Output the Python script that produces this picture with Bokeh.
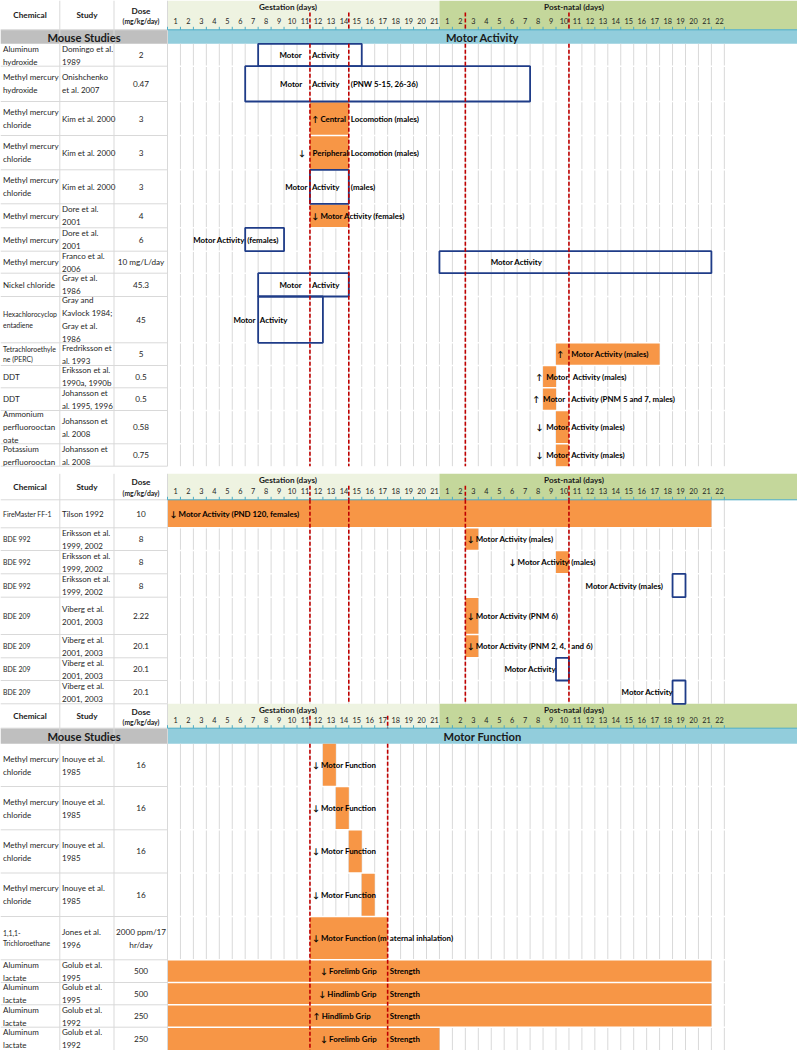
from collections import defaultdict
from bokeh.plotting import figure
from bokeh.models import Range1d
from bokeh.embed import file_html
from bokeh.resources import INLINE
from bokeh.core.properties import value

# ======================= DATA =======================
gest_labels = ["1", "2", "3", "4", "5", "6", "7", "8", "9", "10", "11", "12", "13", "14",
               "15", "16", "17", "18", "19", "20", "21"]
pn_labels = ["1", "2", "3", "4", "5", "6", "7", "8", "9", "10", "11", "12", "13", "14",
             "15", "16", "17", "18", "19", "20", "21", "22"]

# --- Section 1: Mouse studies, Motor Activity ---
band1 = "Motor Activity"
chem1 = ["Aluminum\nhydroxide", "Methyl mercury\nhydroxide", "Methyl mercury\nchloride",
         "Methyl mercury\nchloride", "Methyl mercury\nchloride", "Methyl mercury",
         "Methyl mercury", "Methyl mercury", "Nickel chloride", "Hexachlorocyclop\nentadiene",
         "Tetrachloroethyle\nne (PERC)", "DDT", "DDT", "Ammonium\nperfluorooctan\noate",
         "Potassium\nperfluorooctan"]
study1 = ["Domingo et al.\n1989", "Onishchenko\net al. 2007", "Kim et al. 2000", "Kim et al. 2000",
          "Kim et al. 2000", "Dore et al.\n2001", "Dore et al.\n2001", "Franco et al.\n2006",
          "Gray et al.\n1986", "Gray and\nKavlock 1984;\nGray et al.\n1986", "Fredriksson et\nal. 1993",
          "Eriksson et al.\n1990a, 1990b", "Johansson et\nal. 1995, 1996", "Johansson et\nal. 2008",
          "Johansson et\nal. 2008"]
dose1 = ["2", "0.47", "3", "3", "3", "4", "6", "10 mg/L/day", "45.3", "45", "5", "0.5", "0.5",
         "0.58", "0.75"]
# G = gestation day, P = post-natal day
first1 = ["G8", "G7", "G12", "G12", "G12", "G12", "G7", "P1", "G8", "G8", "P10", "P9", "P9", "P10", "P10"]
last1 = ["G15", "P7", "G14", "G14", "G14", "G14", "G9", "P21", "G14", "G12", "P17", "P9", "P9", "P10", "P10"]
mark1 = ["box", "box", "fill", "fill", "box", "fill", "box", "box", "box", "box", "fill", "fill",
         "fill", "fill", "fill"]
eff1 = [["Motor", "Activity"],
        ["Motor", "Activity", "(PNW 5-15, 26-36)"],
        ["↑ Central", "Locomotion (males)"],
        ["↓", "Peripheral", "Locomotion (males)"],
        ["Motor", "Activity", "(males)"],
        ["↓ Motor Activity (females)"],
        ["Motor Activity", "(females)"],
        ["Motor Activity"],
        ["Motor", "Activity"],
        ["Motor", "Activity"],
        ["↑", "Motor Activity (males)"],
        ["↑", "Motor", "Activity (males)"],
        ["↑", "Motor", "Activity  (PNM 5 and 7, males)"],
        ["↓", "Motor", "Activity (males)"],
        ["↓", "Motor", "Activity (males)"]]
small1 = [False, False, False, False, False, False, False, False, False, True, True, False, False,
          False, False]
red1 = [11, 14, 23, 31]

# --- Section 2: Motor Activity (continued) ---
chem2 = ["FireMaster FF-1", "BDE 992", "BDE 992", "BDE 992", "BDE 209", "BDE 209", "BDE 209", "BDE 209"]
study2 = ["Tilson 1992", "Eriksson et al.\n1999, 2002", "Eriksson et al.\n1999, 2002",
          "Eriksson et al.\n1999, 2002", "Viberg et al.\n2001, 2003", "Viberg et al.\n2001, 2003",
          "Viberg et al.\n2001, 2003", "Viberg et al.\n2001, 2003"]
dose2 = ["10", "8", "8", "8", "2.22", "20.1", "20.1", "20.1"]
first2 = ["G1", "P3", "P10", "P19", "P3", "P3", "P10", "P19"]
last2 = ["P21", "P3", "P10", "P19", "P3", "P3", "P10", "P19"]
mark2 = ["fill", "fill", "fill", "box", "fill", "fill", "box", "box"]
eff2 = [["↓ Motor Activity (PND 120, females)"],
        ["↓ Motor Activity (males)"],
        ["↓ Motor Activity", "(males)"],
        ["Motor Activity (males)"],
        ["↓ Motor Activity (PNM 6)"],
        ["↓ Motor Activity (PNM 2, 4,", "and 6)"],
        ["Motor Activity"],
        ["Motor Activity"]]
small2 = [True] * 8
red2 = [11, 14, 23, 31]

# --- Section 3: Mouse studies, Motor Function ---
band3 = "Motor Function"
chem3 = ["Methyl mercury\nchloride", "Methyl mercury\nchloride", "Methyl mercury\nchloride",
         "Methyl mercury\nchloride", "1,1,1-\nTrichloroethane", "Aluminum\nlactate",
         "Aluminum\nlactate", "Aluminum\nlactate", "Aluminum\nlactate"]
study3 = ["Inouye et al.\n1985", "Inouye et al.\n1985", "Inouye et al.\n1985", "Inouye et al.\n1985",
          "Jones et al.\n1996", "Golub et al.\n1995", "Golub et al.\n1995", "Golub et al.\n1992",
          "Golub et al.\n1992"]
dose3 = ["16", "16", "16", "16", "2000 ppm/17\nhr/day", "500", "500", "250", "250"]
first3 = ["G13", "G14", "G15", "G16", "G12", "G1", "G1", "G1", "G1"]
last3 = ["G13", "G14", "G15", "G16", "G17", "P21", "P21", "P21", "G21"]
mark3 = ["fill"] * 9
eff3 = [["↓ Motor Function"], ["↓ Motor Function"], ["↓ Motor Function"], ["↓ Motor Function"],
        ["↓ Motor Function (m", "aternal inhalation)"],
        ["↓ Forelimb Grip", "Strength"], ["↓ Hindlimb Grip", "Strength"],
        ["↑ Hindlimb Grip", "Strength"], ["↓ Forelimb Grip", "Strength"]]
small3 = [False, False, False, False, True, False, False, False, False]
red3 = [11, 17]

# ======================= LAYOUT =======================
COL_W = 12.95          # reference pixels per day column
X0 = 167.0             # reference pixel where gestation day 1 starts
N_GEST = 21


def pxc(px):
    return (px - X0) / COL_W


X_MIN = pxc(0)
X_MAX = pxc(797)

eff_pos1 = [[(9.5, "center"), (11.15, "left")],
            [(9.55, "center"), (11.15, "left"), (14.15, "left")],
            [(11.2, "left"), (14.15, "left")],
            [(10.4, "center"), (11.2, "left"), (14.15, "left")],
            [(10.8, "right"), (11.15, "left"), (14.15, "left")],
            [(11.2, "left")],
            [(5.97, "right"), (6.15, "left")],
            [(26.95, "center")],
            [(9.5, "center"), (11.15, "left")],
            [(6.8, "right"), (7.13, "left")],
            [(30.35, "center"), (31.17, "left")],
            [(28.73, "center"), (29.24, "left"), (31.3, "left")],
            [(28.5, "center"), (29.0, "left"), (31.17, "left")],
            [(28.75, "center"), (29.24, "left"), (31.17, "left")],
            [(28.75, "center"), (29.24, "left"), (31.17, "left")]]
eff_pos2 = [[(0.25, "left")], [(23.2, "left")], [(26.43, "left"), (31.17, "left")],
            [(38.3, "right")], [(23.2, "left")], [(23.2, "left"), (31.17, "left")],
            [(30.0, "right")], [(39.05, "right")]]
eff_pos3 = [[(11.25, "left")]] * 4 + [[(11.25, "left"), (17.17, "left")],
                                       [(11.87, "left"), (17.17, "left")],
                                       [(11.74, "left"), (17.17, "left")],
                                       [(11.3, "left"), (17.17, "left")],
                                       [(11.87, "left"), (17.17, "left")]]

sections = [
    dict(chem=chem1, study=study1, dose=dose1, first=first1, last=last1, mark=mark1, eff=eff1,
         pos=eff_pos1, small=small1, red=red1, band=band1,
         ht=0.0, hb=29.3, bb=43.3,
         edges=[43.3, 65.7, 101, 135, 169.3, 203.3, 227.3, 250.7, 272.7, 296, 342.3, 365, 387.3,
                410, 443.3, 465.7]),
    dict(chem=chem2, study=study2, dose=dose2, first=first2, last=last2, mark=mark2, eff=eff2,
         pos=eff_pos2, small=small2, red=red2, band=None,
         ht=473.3, hb=499.3, bb=499.3,
         edges=[499.3, 527.3, 550, 573.3, 596.7, 634, 657.3, 680, 703.3]),
    dict(chem=chem3, study=study3, dose=dose3, first=first3, last=last3, mark=mark3, eff=eff3,
         pos=eff_pos3, small=small3, red=red3, band=band3,
         ht=703.3, hb=727.7, bb=743.3,
         edges=[743.3, 786, 829.3, 872.5, 916, 959.3, 982, 1004.3, 1026.7, 1050]),
]

ORANGE = "#F79646"
NAVY = "#1F3C88"
RED = "#C00000"
GRID = "#D9D9D9"
TEAL = "#4BACC6"
GEST_FILL = "#EEF3E1"
PN_FILL = "#C4D79B"
BLUE_BAND = "#92CDDC"
GRAY_BAND = "#BFBFBF"
FONT = "Lato, 'DejaVu Sans'"


def day_start(s):
    base = 0 if s[0] == "G" else N_GEST
    return base + int(s[1:]) - 1


def day_end(s):
    base = 0 if s[0] == "G" else N_GEST
    return base + int(s[1:])


p = figure(width=797, height=1050, x_range=Range1d(X_MIN, X_MAX), y_range=Range1d(1050, 0),
           output_backend="svg", toolbar_location=None, min_border=0,
           x_axis_location=None, y_axis_location=None)
p.grid.visible = False
p.outline_line_color = None
p.background_fill_color = "white"
p.border_fill_color = "white"

texts = defaultdict(lambda: dict(x=[], y=[], t=[]))


def add_text(x, y, t, size, bold=False, align="left", color="#262626"):
    d = texts[(size, bold, align, color)]
    d["x"].append(x)
    d["y"].append(y)
    d["t"].append(t)


hdr = dict(l=[], r=[], t=[], b=[], c=[])
fills = dict(l=[], r=[], t=[], b=[])
boxes = dict(l=[], r=[], t=[], b=[])
gridseg = dict(x0=[], y0=[], x1=[], y1=[])
tabseg = dict(x0=[], y0=[], x1=[], y1=[])
whiteseg = dict(x0=[], y0=[], x1=[], y1=[])
redseg = dict(x0=[], y0=[], x1=[], y1=[])
tealseg = dict(x0=[], y0=[], x1=[], y1=[])

x_chem = pxc(2.5)
x_study = pxc(61.5)
x_dose = pxc(140.5)
col_lines = [pxc(59.3), pxc(113.5), 0.0]

for s in sections:
    ht, hb, bb, edges = s["ht"], s["hb"], s["bb"], s["edges"]
    bottom = edges[-1]
    hm = (ht + hb) / 2
    hdr["l"] += [0, N_GEST]
    hdr["r"] += [N_GEST, X_MAX]
    hdr["t"] += [ht, ht]
    hdr["b"] += [hb, hb]
    hdr["c"] += [GEST_FILL, PN_FILL]
    if s["band"] is not None:
        hdr["l"] += [X_MIN, 0]
        hdr["r"] += [0, X_MAX]
        hdr["t"] += [hb, hb]
        hdr["b"] += [bb, bb]
        hdr["c"] += [GRAY_BAND, BLUE_BAND]
        add_text(pxc(83.5), (hb + bb) / 2 + 0.3, "Mouse Studies", 11.2, True, "center", "#1a1a1a")
        add_text(pxc(482), (hb + bb) / 2 + 0.3, s["band"], 11.2, True, "center", "#1a1a1a")
    add_text(pxc(29.5), hm, "Chemical", 8.2, True, "center", "#1a1a1a")
    add_text(pxc(86.5), hm, "Study", 8.2, True, "center", "#1a1a1a")
    add_text(x_dose, hm - 4.5, "Dose", 8.2, True, "center", "#1a1a1a")
    add_text(x_dose, hm + 6.2, "(mg/kg/day)", 6.8, True, "center", "#1a1a1a")
    add_text(pxc(287.5), ht + 6.3, "Gestation (days)", 8.2, True, "center", "#1a1a1a")
    add_text(pxc(573.5), ht + 6.3, "Post-natal (days)", 8.2, True, "center", "#1a1a1a")
    for i, lab in enumerate(gest_labels):
        add_text(i + 0.62, hb - 8.5, lab, 7.3, False, "center", "#1f1f1f")
    for i, lab in enumerate(pn_labels):
        add_text(N_GEST + i + 0.62, hb - 8.5, lab, 7.3, False, "center", "#1f1f1f")
    tealseg["x0"].append(0); tealseg["x1"].append(X_MAX)
    tealseg["y0"].append(hb); tealseg["y1"].append(hb)
    for k in range(0, 44):
        tealseg["x0"].append(k); tealseg["x1"].append(k)
        tealseg["y0"].append(hb - 3); tealseg["y1"].append(hb)
    for xl in col_lines:
        tabseg["x0"].append(xl); tabseg["x1"].append(xl)
        tabseg["y0"].append(ht); tabseg["y1"].append(bottom)
    tabseg["x0"].append(X_MIN); tabseg["x1"].append(0)
    tabseg["y0"].append(hb); tabseg["y1"].append(hb)
    for k in range(1, 44):
        gridseg["x0"].append(k); gridseg["x1"].append(k)
        gridseg["y0"].append(bb); gridseg["y1"].append(bottom)
    n = len(s["chem"])
    for i in range(n):
        top, bot = edges[i], edges[i + 1]
        mid = (top + bot) / 2
        tabseg["x0"].append(X_MIN); tabseg["x1"].append(0)
        tabseg["y0"].append(bot); tabseg["y1"].append(bot)
        if i < n - 1:
            whiteseg["x0"].append(0); whiteseg["x1"].append(X_MAX)
            whiteseg["y0"].append(bot); whiteseg["y1"].append(bot)
        add_text(x_chem, mid, s["chem"][i], 6.9 if s["small"][i] else 8.0)
        add_text(x_study, mid, s["study"][i], 8.0)
        add_text(x_dose, mid, s["dose"][i], 8.2, False, "center")
        tgt = fills if s["mark"][i] == "fill" else boxes
        tgt["l"].append(day_start(s["first"][i]))
        tgt["r"].append(day_end(s["last"][i]))
        tgt["t"].append(top)
        tgt["b"].append(bot)
        for txt, (xc, al) in zip(s["eff"][i], s["pos"][i]):
            add_text(xc, mid, txt, 7.9, True, al, "#000000")
    for c in s["red"]:
        redseg["x0"] += [c, c]; redseg["x1"] += [c, c]
        redseg["y0"] += [ht + 12, bb]; redseg["y1"] += [hb, bottom]

p.quad(left=hdr["l"], right=hdr["r"], top=hdr["t"], bottom=hdr["b"], fill_color=hdr["c"],
       line_color=None)
p.segment(x0=gridseg["x0"], y0=gridseg["y0"], x1=gridseg["x1"], y1=gridseg["y1"],
          line_color=GRID, line_width=1)
p.quad(left=fills["l"], right=fills["r"], top=fills["t"], bottom=fills["b"], fill_color=ORANGE,
       line_color=None)
p.segment(x0=whiteseg["x0"], y0=whiteseg["y0"], x1=whiteseg["x1"], y1=whiteseg["y1"],
          line_color="white", line_width=1.5)
p.segment(x0=tabseg["x0"], y0=tabseg["y0"], x1=tabseg["x1"], y1=tabseg["y1"],
          line_color=GRID, line_width=1)
p.segment(x0=tealseg["x0"], y0=tealseg["y0"], x1=tealseg["x1"], y1=tealseg["y1"],
          line_color=TEAL, line_width=1)
p.quad(left=boxes["l"], right=boxes["r"], top=boxes["t"], bottom=boxes["b"], fill_color=None,
       line_color=NAVY, line_width=1.8)
p.segment(x0=redseg["x0"], y0=redseg["y0"], x1=redseg["x1"], y1=redseg["y1"],
          line_color=RED, line_width=1.6, line_dash="4 2")

for (size, bold, align, color), d in texts.items():
    p.text(x=d["x"], y=d["y"], text=d["t"], text_font=value(FONT),
           text_font_size=value(f"{size}px"), text_font_style="bold" if bold else "normal",
           text_align=align, text_baseline="middle", text_color=color, text_line_height=1.3)

open("out.html", "w").write(file_html(p, INLINE))
